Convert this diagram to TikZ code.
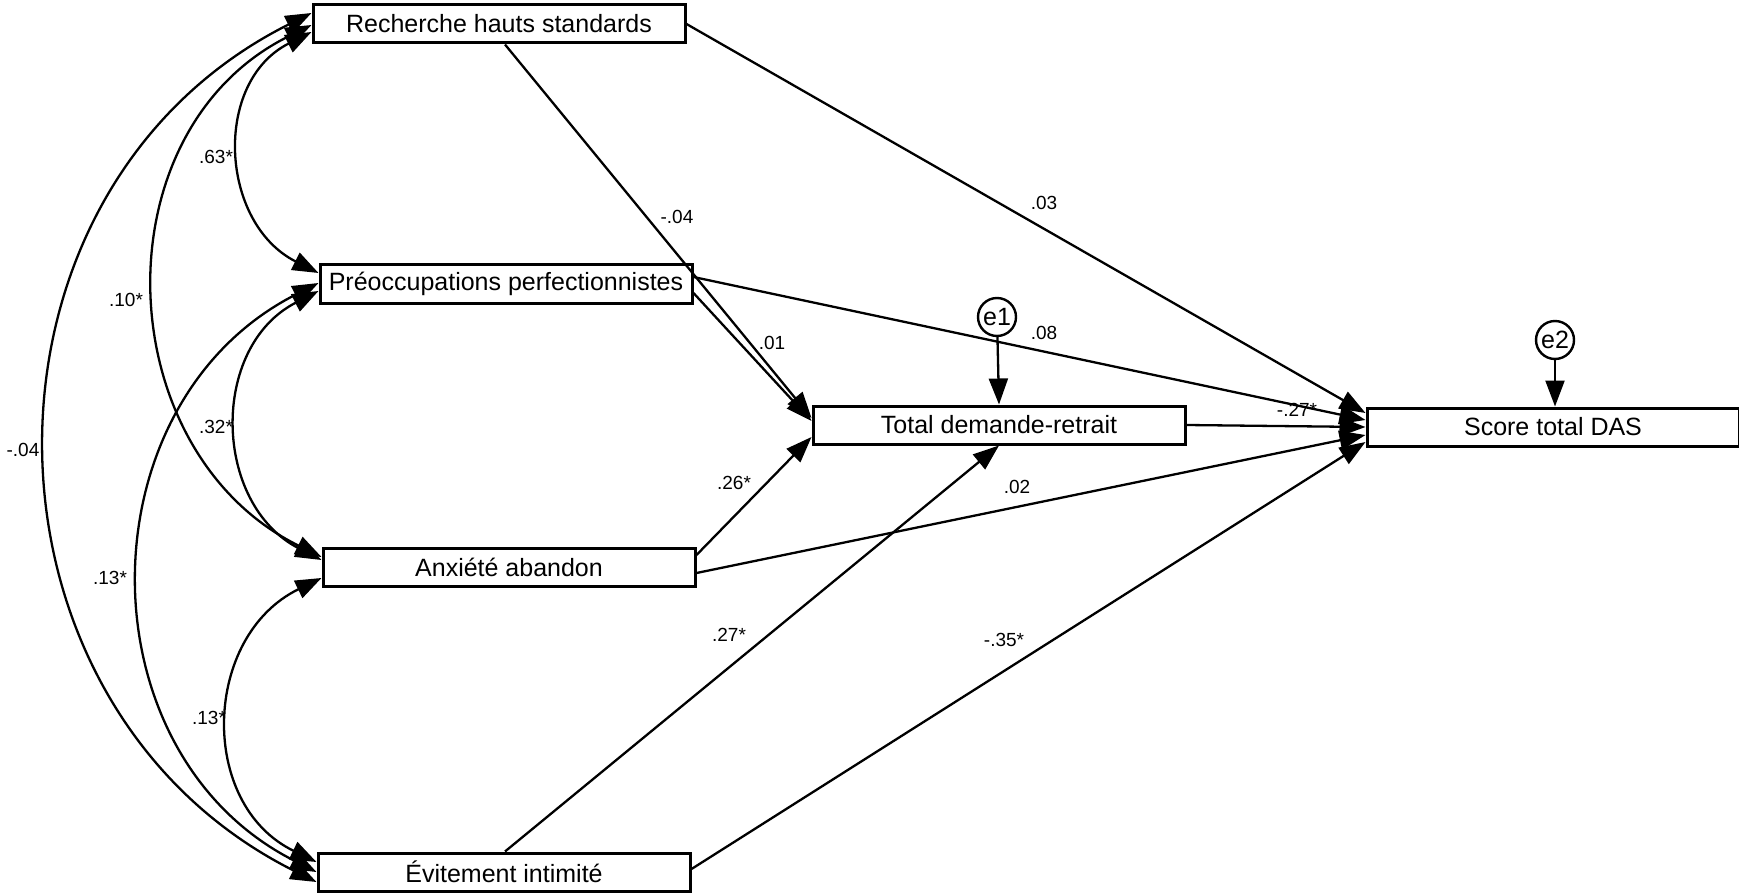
\documentclass[tikz,border=0pt]{standalone}
\usepackage{fontspec}
\setmainfont{Liberation Sans}
\usetikzlibrary{calc, arrows.meta}

\tikzset{
  boite/.style={draw, line width=1.5pt, minimum width=186pt, minimum height=19pt,
    inner sep=0pt, font=\fontsize{12.5}{14}\selectfont},
  erreur/.style={draw, circle, line width=1.2pt, minimum size=19pt, inner sep=0pt,
    font=\fontsize{12.5}{14}\selectfont},
  coef/.style={font=\fontsize{9.5}{11}\selectfont, inner sep=0pt},
  chemin/.style={line width=1.15pt, -{Triangle[length=13pt, width=9.5pt]}},
  cov/.style={line width=1.15pt, {Triangle[length=13pt, width=9.5pt]}-{Triangle[length=13pt, width=9.5pt]}}
}

\begin{document}
\begin{tikzpicture}[x=0.5pt, y=-0.5pt]
    \useasboundingbox (0,0) rectangle (1739,893);

    % Variables du modèle
    \node[boite] (rhs) at (499,24)  {Recherche hauts standards};
    \node[boite] (pre) at (506,284) {Préoccupations perfectionnistes};
    \node[boite] (anx) at (509,567) {Anxiété abandon};
    \node[boite] (evi) at (504,872) {Évitement intimité};
    \node[boite] (tot) at (999,425) {Total demande-retrait};
    \node[boite] (das) at (1553,427) {Score total DAS};

    % Erreurs
    \node[erreur] (e1) at (997,317)  {e1};
    \node[erreur] (e2) at (1555,340) {e2};
    \draw[chemin] (e1) -- (tot.north);
    \draw[chemin] (e2) -- (e2 |- das.north);

    % Effets vers Total demande-retrait
    \draw[chemin] ($(rhs.south)+(6,0)$) -- ($(tot.west)+(0,-7)$);
    \draw[chemin] ($(pre.east)+(0,9)$)  -- ($(tot.west)+(0,-4)$);
    \draw[chemin] ($(anx.east)+(0,-12)$) -- ($(tot.west)+(0,12)$);
    \draw[chemin] ($(evi.north)+(1,0)$) -- (tot.south);

    % Effets vers Score total DAS
    \draw[chemin] (rhs.east) -- ($(das.west)+(0,-14)$);
    \draw[chemin] ($(pre.east)+(0,-7)$) -- ($(das.west)+(0,-7)$);
    \draw[chemin] (tot.east) -- (das.west);
    \draw[chemin] ($(anx.east)+(0,6)$) -- ($(das.west)+(0,8)$);
    \draw[chemin] ($(evi.east)+(0,-3)$) -- ($(das.west)+(0,15)$);

    % Covariances
    \draw[cov] ($(rhs.west)+(0,8)$) .. controls +(-99,50) and +(-99,-50) .. ($(pre.west)+(0,-11)$);
    \draw[cov] ($(rhs.west)+(0,1)$) .. controls +(-214,106) and +(-214,-106) .. ($(anx.west)+(0,-10)$);
    \draw[cov] ($(rhs.west)+(0,-11)$) .. controls +(-355,178) and +(-355,-178) .. ($(evi.west)+(0,10)$);
    \draw[cov] ($(pre.west)+(0,7)$) .. controls +(-109,56) and +(-109,-56) .. ($(anx.west)+(0,-7)$);
    \draw[cov] ($(pre.west)+(0,-1)$) .. controls +(-236,120) and +(-236,-120) .. (evi.west);
    \draw[cov] ($(anx.west)+(0,11)$) .. controls +(-119,58) and +(-119,-58) .. ($(evi.west)+(0,-10)$);

    % Coefficients
    \foreach \x/\y/\lab/\n in {
        216/157/.63*/c1, 126/300/.10*/c2, 23/450/-.04/c3,
        216/427/.32*/c4, 110/578/.13*/c5, 209/718/.13*/c6,
        677/217/-.04/c7, 1044/203/.03/c8, 772/343/.01/c9,
        1044/333/.08/c10, 1297/410/-.27*/c11, 734/483/.26*/c12,
        1017/487/.02/c13, 729/635/.27*/c14, 1004/640/-.35*/c15
    } {
        \node[coef] (\n) at (\x,\y) {\lab};
    }
\end{tikzpicture}
\end{document}
